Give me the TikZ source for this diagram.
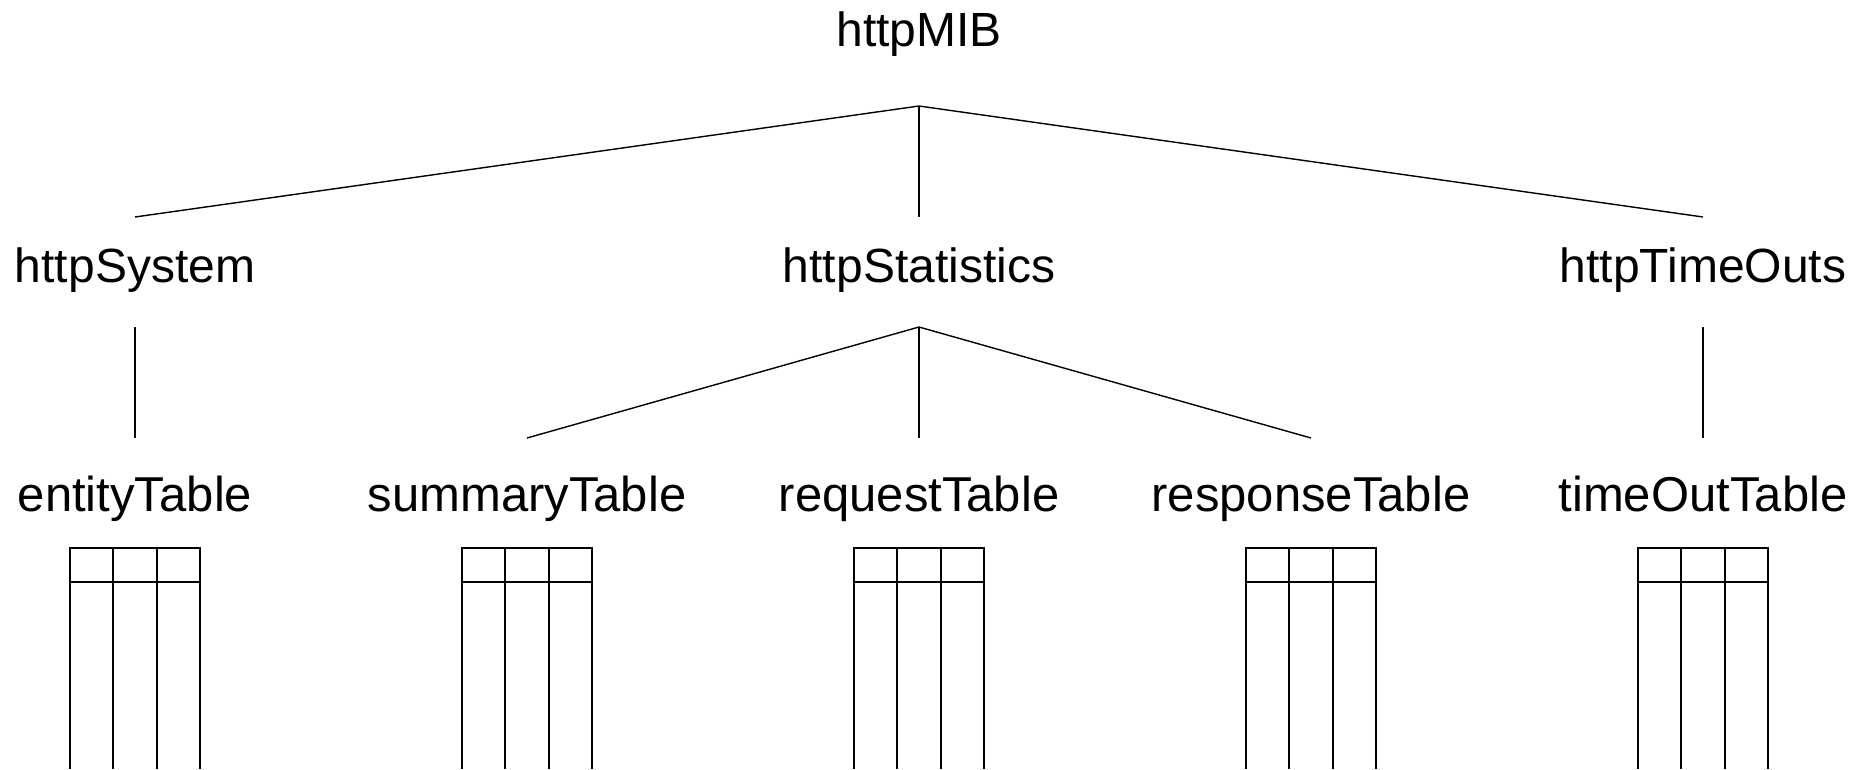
\documentclass[tikz,border=0pt]{standalone}
\usepackage{fontspec}
\setmainfont{Liberation Sans}
\begin{document}
\begin{tikzpicture}[x=1pt,y=-1pt,
  lbl/.style={anchor=base,inner sep=0pt,font=\fontsize{48}{56}\selectfont},
  tlbl/.style={lbl,font=\fontsize{49}{56}\selectfont},
  conn/.style={line width=1.4pt},
  tbl/.style={line width=1.7pt}]
\useasboundingbox (0,0) rectangle (1868,769);
% labels
\node[lbl] (mib) at (919,46) {httpMIB};
\node[lbl] (sys) at (135,282) {httpSystem};
\node[lbl] (stat) at (919,282) {httpStatistics};
\node[lbl] (tout) at (1703,282) {httpTimeOuts};
\node[tlbl] (ent) at (135,511) {entityTable};
\node[tlbl] (sum) at (527,511) {summaryTable};
\node[tlbl] (req) at (919,511) {requestTable};
\node[tlbl] (resp) at (1311,511) {responseTable};
\node[tlbl] (tot) at (1703,511) {timeOutTable};
% connector ends
\coordinate (mibfork) at (919,106);
\coordinate (systop) at (135,217);
\coordinate (stattop) at (919,217);
\coordinate (touttop) at (1703,217);
\coordinate (sysbot) at (135,327);
\coordinate (statfork) at (919,327);
\coordinate (toutbot) at (1703,327);
\coordinate (enttop) at (135,438);
\coordinate (sumtop) at (527,438);
\coordinate (reqtop) at (919,438);
\coordinate (resptop) at (1311,438);
\coordinate (tottop) at (1703,438);
\draw[conn] (mibfork) -- (systop);
\draw[conn] (mibfork) -- (stattop);
\draw[conn] (mibfork) -- (touttop);
\draw[conn] (sysbot) -- (enttop);
\draw[conn] (statfork) -- (sumtop);
\draw[conn] (statfork) -- (reqtop);
\draw[conn] (statfork) -- (resptop);
\draw[conn] (toutbot) -- (tottop);
% tables
\foreach \c in {135,527,919,1311,1703}{
  \draw[tbl] (\c-65,769) -- (\c-65,548) -- (\c+65,548) -- (\c+65,769);
  \draw[tbl] (\c-65,582) -- (\c+65,582);
  \draw[tbl] (\c-21.7,548) -- (\c-21.7,769);
  \draw[tbl] (\c+21.7,548) -- (\c+21.7,769);
}
\end{tikzpicture}
\end{document}
